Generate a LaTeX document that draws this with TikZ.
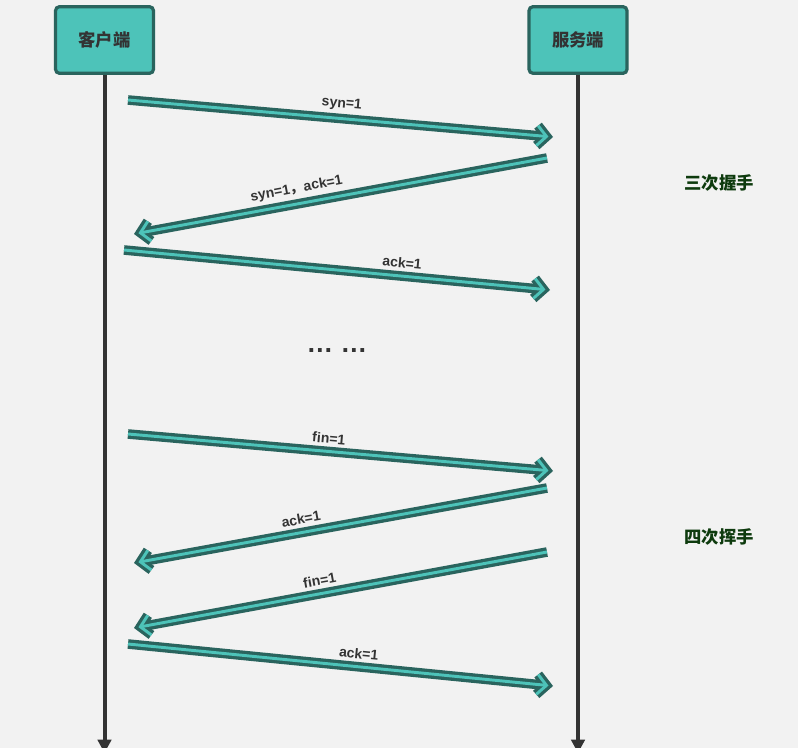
\documentclass[tikz,border=0pt]{standalone}
\usepackage{fontspec}
\setmainfont{Liberation Sans}
\newfontfamily\cjk{Noto Sans CJK SC}
\usetikzlibrary{arrows.meta, positioning}
\definecolor{bgcol}{HTML}{F2F2F2}
\definecolor{tealfill}{HTML}{4DC3B9}
\definecolor{tealdark}{HTML}{2A645E}
\definecolor{lifecol}{HTML}{333333}
\definecolor{notecol}{HTML}{0E3B0E}

\begin{document}
\begin{tikzpicture}[x=0.75pt, y=-0.75pt,
  actor/.style={rectangle, rounded corners=3pt, draw=tealdark, line width=2.4pt,
                fill=tealfill, minimum width=73.5pt, minimum height=50pt,
                font=\cjk\bfseries\fontsize{13}{15}\selectfont, text=lifecol},
  lifeline/.style={draw=lifecol, line width=3pt, -{Triangle[length=10pt, width=10pt]}},
  msg/.style={draw=tealfill, line width=2.2pt, shorten >=3.4pt,
              -{Straight Barb[length=7pt, width=15pt]},
              preaction={draw=tealdark, line width=7.2pt, shorten >=0pt,
                         -{Straight Barb[length=7pt, width=15pt]}}},
  msglabel/.style={sloped, above=4pt, inner sep=1pt,
                   font=\bfseries\fontsize{10.5}{12}\selectfont, text=lifecol},
  note/.style={font=\cjk\bfseries\fontsize{13}{15}\selectfont, text=notecol}
]
\fill[bgcol] (0,0) rectangle (798,748);
\useasboundingbox (0,0) rectangle (798,748);
\clip (0,0) rectangle (798,748);

% participants
\node[actor] (client) at (104.5,40) {客户端};
\node[actor] (server) at (578,40) {服务端};
\coordinate (clientend) at (104.5,753);
\coordinate (serverend) at (578,753);
\draw[lifeline] (client.south) -- (clientend);
\draw[lifeline] (server.south) -- (serverend);

% three-way handshake
\coordinate (syns) at (128,100);  \coordinate (syne) at (553,137);
\coordinate (synacks) at (547,158); \coordinate (synacke) at (134,234);
\coordinate (acks) at (124,250);  \coordinate (acke) at (550,290);
\draw[msg] (syns) -- node[msglabel, pos=0.5] {syn=1} (syne);
\draw[msg] (synacks) -- node[msglabel, pos=0.6] {syn=1{\cjk ，}ack=1} (synacke);
\draw[msg] (acks) -- node[msglabel, pos=0.65] {ack=1} (acke);
\node[note] (shake) at (719,183) {三次握手};

\node[font=\bfseries\fontsize{20}{22}\selectfont, text=lifecol] (dots) at (337,351) {… …};

% four-way wave
\coordinate (fins) at (128,434);  \coordinate (fine) at (553,471);
\coordinate (finacks) at (547,488); \coordinate (finacke) at (134,563);
\coordinate (fin2s) at (547,552); \coordinate (fin2e) at (134,628);
\coordinate (lacks) at (128,644); \coordinate (lacke) at (553,686);
\draw[msg] (fins) -- node[msglabel, pos=0.47] {fin=1} (fine);
\draw[msg] (finacks) -- node[msglabel, pos=0.59] {ack=1} (finacke);
\draw[msg] (fin2s) -- node[msglabel, pos=0.545] {fin=1} (fin2e);
\draw[msg] (lacks) -- node[msglabel, pos=0.54] {ack=1} (lacke);
\node[note] (wave) at (719,537) {四次挥手};
\end{tikzpicture}
\end{document}
